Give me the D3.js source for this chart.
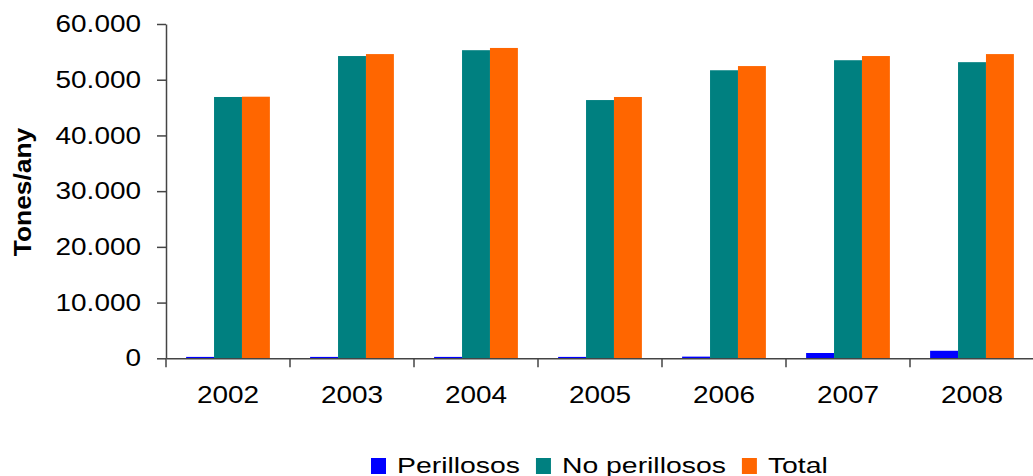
<!DOCTYPE html>
<html>
<head>
<meta charset="utf-8">
<script src="https://cdn.jsdelivr.net/npm/d3@7"></script>
<style>
  html, body { margin: 0; padding: 0; background: #fff; }
  svg { display: block; font-family: "Liberation Sans", Arial, sans-serif; }
</style>
</head>
<body>
<svg id="chart" width="1033" height="476"></svg>
<script>
const years = ["2002", "2003", "2004", "2005", "2006", "2007", "2008"];
const seriesNames = ["Perillosos", "No perillosos", "Total"];
const perillosos = [250, 250, 250, 250, 300, 950, 1350];
const noPerillosos = [46900, 54250, 55300, 46350, 51700, 53500, 53150];
const total = [46950, 54600, 55700, 46900, 52450, 54250, 54600];
const yTicks = [0, 10000, 20000, 30000, 40000, 50000, 60000];
const colors = ["#0000FF", "#008080", "#FF6600"];

(function () {
const seriesValues = [perillosos, noPerillosos, total];
const data = years.map((yr, i) => ({
  year: yr,
  values: seriesNames.map((s, j) => ({ key: s, value: seriesValues[j][i] }))
}));

const svg = d3.select("#chart");
const mLeft = 166, mTop = 24, mBottom = 358.3, step = 124;
const stretch = 1.2;

const x0 = d3.scaleBand().domain(years).range([mLeft, mLeft + step * years.length]).paddingInner(0).paddingOuter(0);
const x1 = d3.scaleBand().domain(seriesNames).range([0, x0.bandwidth()]).paddingInner(0).paddingOuter(0.72);
const y = d3.scaleLinear().domain([0, 60000]).range([mBottom, mTop]);
const color = d3.scaleOrdinal().domain(seriesNames).range(colors);

const locale = d3.formatLocale({ decimal: ",", thousands: ".", grouping: [3], currency: ["", ""] });
const fmt = locale.format(",");

// bars
svg.append("g").selectAll("g").data(data).join("g")
  .attr("transform", d => `translate(${x0(d.year)},0)`)
  .selectAll("rect").data(d => d.values).join("rect")
  .attr("x", d => x1(d.key))
  .attr("width", x1.bandwidth())
  .attr("y", d => y(d.value))
  .attr("height", d => y(0) - y(d.value))
  .attr("fill", d => color(d.key));

// y axis
const yAxis = svg.append("g").attr("transform", `translate(${mLeft},0)`)
  .call(d3.axisLeft(y).tickValues(yTicks).tickFormat(fmt).tickSize(9).tickSizeOuter(0));
yAxis.select(".domain").attr("stroke", "#444").attr("stroke-width", 1.5);
yAxis.selectAll(".tick line").attr("stroke", "#444").attr("stroke-width", 1.5);
yAxis.selectAll(".tick text")
  .attr("x", -25 / stretch)
  .attr("dy", "0.33em")
  .attr("transform", `scale(${stretch},1)`)
  .attr("font-size", 23.3)
  .attr("font-family", "Liberation Sans, Arial, sans-serif")
  .attr("fill", "#000");

// x axis
const xAxis = svg.append("g").attr("transform", `translate(0,${mBottom})`)
  .call(d3.axisBottom(x0).tickSize(0).tickSizeOuter(0));
xAxis.select(".domain").attr("stroke", "#444").attr("stroke-width", 1.5);
xAxis.selectAll(".tick text")
  .attr("y", 45)
  .attr("dy", 0)
  .attr("transform", `scale(${stretch},1)`)
  .attr("font-size", 23.3)
  .attr("font-family", "Liberation Sans, Arial, sans-serif")
  .attr("fill", "#000");
// boundary ticks
const bounds = years.map(d => x0(d)).concat([x0.range()[1]]);
xAxis.selectAll(".btick").data(bounds).join("line")
  .attr("class", "btick")
  .attr("x1", d => d).attr("x2", d => d)
  .attr("y1", 0).attr("y2", 9)
  .attr("stroke", "#444").attr("stroke-width", 1.5);

// y title
svg.append("text")
  .attr("transform", `translate(31,192) rotate(-90) scale(1.1,1)`)
  .attr("text-anchor", "middle")
  .attr("font-size", 24)
  .attr("font-weight", "bold")
  .attr("fill", "#000")
  .text("Tones/any");

// legend
const lstretch = 1.29;
const legend = svg.append("g");
let lx = 371;
seriesNames.forEach((s, i) => {
  legend.append("rect").attr("x", lx).attr("y", 458).attr("width", 15).attr("height", 16).attr("fill", color(s));
  const tx = lx + 26;
  const t = legend.append("text")
    .attr("x", tx / lstretch)
    .attr("y", 473)
    .attr("transform", `scale(${lstretch},1)`)
    .attr("font-size", 22)
    .attr("fill", "#000")
    .text(s);
  const w = t.node().getComputedTextLength() * lstretch;
  lx = tx + w + 16;
});
})();
</script>
</body>
</html>
